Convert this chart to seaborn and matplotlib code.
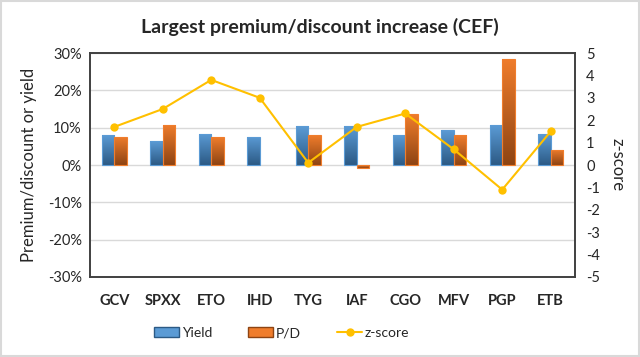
import numpy as np
import pandas as pd
import matplotlib
matplotlib.use("Agg")
import matplotlib.pyplot as plt
import matplotlib.colors as mcolors
from matplotlib.lines import Line2D
from matplotlib.patches import Patch
import seaborn as sns

# values
tickers = ["GCV", "SPXX", "ETO", "IHD", "TYG", "IAF", "CGO", "MFV", "PGP", "ETB"]
yield_pct = [8.0, 6.4, 8.4, 7.6, 10.4, 10.4, 8.0, 9.3, 10.7, 8.2]
pd_pct = [7.6, 10.8, 7.4, 0.0, 8.0, -0.8, 13.6, 8.0, 28.4, 4.1]
z_score = [1.7, 2.5, 3.8, 3.0, 0.1, 1.7, 2.3, 0.7, -1.1, 1.5]

sns.set_style("white")
plt.rcParams["font.family"] = ["Lato", "DejaVu Sans"]

df = pd.DataFrame({"ticker": tickers * 2,
                   "value": yield_pct + pd_pct,
                   "series": ["Yield"] * len(tickers) + ["P/D"] * len(tickers)})

fig = plt.figure(figsize=(6.4, 3.57), dpi=100)
ax = fig.add_axes([0.1406, 0.2241, 0.7578, 0.6274])

blue_top, blue_bot = "#5B9BD5", "#2C5A85"
orange_top, orange_bot = "#F07D2C", "#8E4413"

sns.barplot(data=df, x="ticker", y="value", hue="series", order=tickers,
            hue_order=["Yield", "P/D"], palette=[blue_top, orange_top],
            width=0.52, dodge=True, ax=ax, legend=False, saturation=1)

ax.set_ylim(-30, 30)
ax.set_xlim(-0.5, len(tickers) - 0.5)
ax.set_yticks(np.arange(-30, 31, 10))
ax.set_yticklabels([f"{v}%" for v in range(-30, 31, 10)], fontsize=10.5)
ax.yaxis.grid(True, color="#D9D9D9", linewidth=1)
ax.set_axisbelow(True)
ax.set_xlabel("")
ax.set_ylabel("Premium/discount or yield", fontsize=12, labelpad=8)
ax.tick_params(axis="y", length=0, pad=6)
ax.tick_params(axis="x", length=0, pad=12)
for lab in ax.get_xticklabels():
    lab.set_fontweight("bold")
    lab.set_fontsize(10.5)
for s in ax.spines.values():
    s.set_color("#404040")
    s.set_linewidth(1.2)

# gradient fill on every bar
n = len(tickers)
grad = np.linspace(0, 1, 100).reshape(-1, 1)
for i, p in enumerate(ax.patches):
    h = p.get_height()
    if h == 0:
        p.set_visible(False)
        continue
    top, bot = (blue_top, blue_bot) if i < n else (orange_top, orange_bot)
    cmap = mcolors.LinearSegmentedColormap.from_list("g", [bot, top])
    x0 = p.get_x()
    w = p.get_width()
    y0, y1 = min(0, h), max(0, h)
    im = ax.imshow(grad, cmap=cmap, aspect="auto", origin="lower",
                   extent=[x0, x0 + w, y0, y1], zorder=p.get_zorder())
    im.set_clip_path(p)
    p.set_edgecolor(top)
    p.set_linewidth(0.8)
    p.set_facecolor("none")
    p.set_zorder(p.get_zorder() + 0.1)
ax.set_aspect("auto")
ax.set_xlim(-0.5, n - 0.5)
ax.set_ylim(-30, 30)

ax2 = ax.twinx()
sns.lineplot(x=np.arange(n), y=z_score, color="#FFC000", linewidth=1.5,
             marker="o", markersize=6, markeredgewidth=0, ax=ax2)
ax2.set_ylim(-5, 5)
ax2.set_yticks(np.arange(-5, 6, 1))
ax2.set_yticklabels([str(v) for v in range(-5, 6)], fontsize=10.5)
ax2.tick_params(axis="y", length=0, pad=8)
ax2.set_ylabel("z-score", fontsize=12, rotation=270, labelpad=18)
for s in ax2.spines.values():
    s.set_color("#404040")
    s.set_linewidth(1.2)

fig.text(0.5, 0.925, "Largest premium/discount increase (CEF)",
         ha="center", va="center", fontsize=14, fontweight="bold")

handles = [Patch(facecolor=blue_top, edgecolor=blue_bot),
           Patch(facecolor=orange_top, edgecolor=orange_bot),
           Line2D([0], [0], color="#FFC000", marker="o", markersize=5, linewidth=1.5)]
fig.legend(handles, ["Yield", "P/D", "z-score"], loc="center",
           bbox_to_anchor=(0.44, 0.067), ncol=3, frameon=False, fontsize=10,
           handlelength=1.8, handleheight=0.7, handletextpad=0.2, columnspacing=2.6)

fig.patches.append(plt.Rectangle((0.002, 0.003), 0.996, 0.994, transform=fig.transFigure,
                                 fill=False, edgecolor="#D9D9D9", linewidth=1.5))

fig.savefig("out.png", dpi=100)
